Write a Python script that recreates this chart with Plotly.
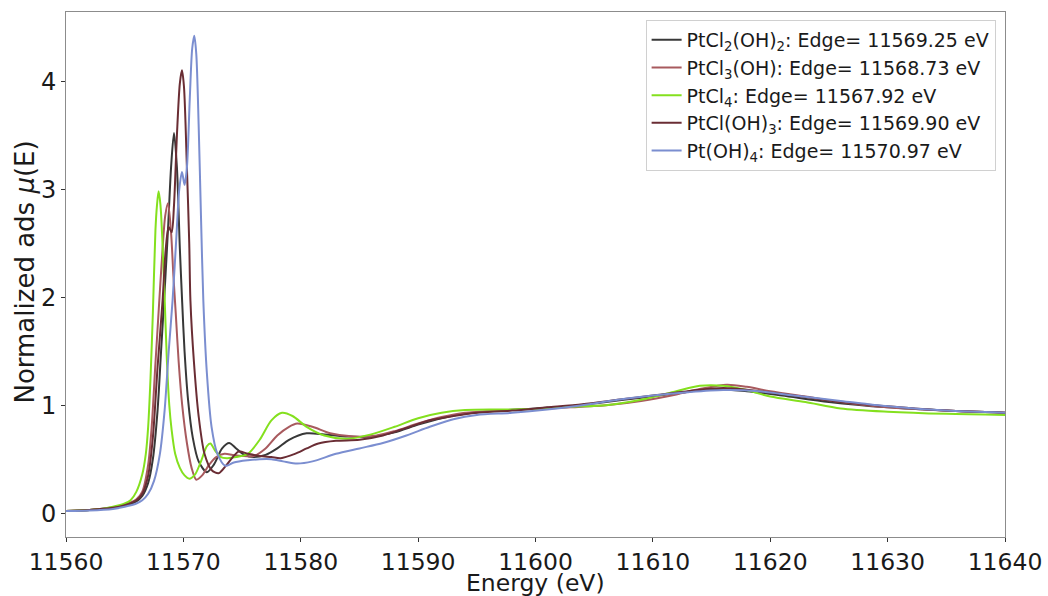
import plotly.graph_objects as go

# Pt L3-edge XANES of the chloro/hydroxo Pt(IV) complexes

# PtCl2(OH)2
e_cl2oh2 = [11560, 11562, 11564, 11565, 11566, 11566.5, 11567, 11567.4, 11567.8, 11568.1,
            11568.4, 11568.7, 11568.95, 11569.2, 11569.45, 11569.7, 11569.9, 11570.1, 11570.4,
            11570.8, 11571.3, 11572.0, 11572.6, 11573.3, 11573.9, 11574.5, 11575.2, 11576,
            11577, 11578, 11579, 11580.5, 11582, 11584, 11586, 11588, 11590, 11592, 11594,
            11597, 11600, 11603, 11606, 11609, 11612, 11615, 11618, 11621, 11625, 11630,
            11635, 11640]
mu_cl2oh2 = [0.02, 0.03, 0.05, 0.07, 0.11, 0.16, 0.28, 0.5, 0.95, 1.5,
             2.05, 2.65, 3.2, 3.52, 3.2, 2.45, 1.95, 1.5, 1.05,
             0.7, 0.48, 0.38, 0.45, 0.6, 0.65, 0.6, 0.54, 0.52,
             0.54, 0.6, 0.68, 0.74, 0.73, 0.71, 0.71, 0.75, 0.82, 0.88, 0.92,
             0.95, 0.97, 0.99, 1.03, 1.07, 1.11, 1.15, 1.13, 1.09, 1.03, 0.98,
             0.95, 0.93]

# PtCl3(OH)
e_cl3oh = [11560, 11562, 11564, 11565, 11566, 11566.5, 11567, 11567.3, 11567.6, 11567.95,
           11568.2, 11568.45, 11568.69, 11568.95, 11569.15, 11569.35, 11569.6, 11569.9,
           11570.3, 11570.7, 11571.1, 11571.6, 11572.2, 11572.8, 11573.5, 11574.2, 11575,
           11576, 11577, 11578, 11579, 11579.7, 11581, 11582.5, 11584.5, 11586.5, 11588,
           11590, 11592, 11594, 11597, 11600, 11603, 11606, 11609, 11612, 11614, 11616.3,
           11618, 11620, 11623, 11626, 11630, 11635, 11640]
mu_cl3oh = [0.02, 0.03, 0.055, 0.08, 0.13, 0.2, 0.45, 0.8, 1.35, 1.97,
            2.4, 2.75, 2.87, 2.6, 2.2, 1.85, 1.4, 1.0,
            0.65, 0.42, 0.31, 0.35, 0.45, 0.52, 0.55, 0.54, 0.53,
            0.53, 0.6, 0.72, 0.8, 0.83, 0.8, 0.74, 0.71, 0.72, 0.76,
            0.83, 0.89, 0.93, 0.95, 0.965, 0.98, 1.0, 1.04, 1.1, 1.15, 1.19,
            1.17, 1.13, 1.08, 1.03, 0.98, 0.95, 0.93]

# PtCl4
e_cl4 = [11560, 11562, 11563, 11564, 11565, 11565.5, 11566, 11566.5, 11566.8, 11567,
         11567.2, 11567.4, 11567.62, 11567.75, 11567.89, 11568.05, 11568.2, 11568.4,
         11568.6, 11568.8, 11569.0, 11569.3, 11569.7, 11570.1, 11570.5, 11571.0, 11571.5,
         11572.0, 11572.3, 11572.7, 11573.2, 11573.7, 11574.5, 11575.5, 11576.5, 11577.5,
         11578.4, 11579.3, 11580.5, 11582, 11584, 11586, 11588, 11590, 11592, 11594,
         11597, 11600, 11603, 11606, 11609, 11612, 11614, 11616, 11618, 11620, 11623,
         11626, 11630, 11635, 11640]
mu_cl4 = [0.02, 0.03, 0.04, 0.06, 0.09, 0.12, 0.2, 0.36, 0.55, 0.8,
          1.25, 1.85, 2.62, 2.85, 2.98, 2.85, 2.55, 2.0,
          1.4, 1.0, 0.77, 0.55, 0.42, 0.35, 0.32, 0.36, 0.48,
          0.62, 0.645, 0.58, 0.52, 0.51, 0.52, 0.55, 0.68, 0.86,
          0.93, 0.9, 0.8, 0.72, 0.69, 0.73, 0.8, 0.88, 0.93, 0.955,
          0.96, 0.965, 0.985, 1.0, 1.05, 1.13, 1.18, 1.18, 1.14, 1.08, 1.03,
          0.97, 0.94, 0.92, 0.91]

# PtCl(OH)3
e_cloh3 = [11560, 11562, 11564, 11565, 11566, 11566.5, 11567, 11567.4, 11567.8, 11568.23,
           11568.5, 11568.75, 11569.0, 11569.2, 11569.45, 11569.7, 11569.88, 11570.05,
           11570.3, 11570.5, 11570.6, 11570.9, 11571.3, 11571.8, 11572.4, 11573.0, 11573.7,
           11574.7, 11575.5, 11576.5, 11577.5, 11578.3, 11579.5, 11580.5, 11581.5, 11583,
           11585, 11587, 11589, 11591, 11593, 11595, 11598, 11601, 11604, 11607, 11610,
           11613, 11616, 11619, 11622, 11626, 11630, 11635, 11640]
mu_cloh3 = [0.02, 0.03, 0.05, 0.075, 0.12, 0.18, 0.35, 0.7, 1.35, 1.97,
            2.45, 2.65, 2.6, 2.85, 3.5, 3.98, 4.1, 3.95,
            3.2, 2.5, 1.97, 1.4, 0.9, 0.55, 0.4, 0.37, 0.45,
            0.57, 0.55, 0.53, 0.52, 0.51, 0.55, 0.6, 0.645, 0.67,
            0.68, 0.72, 0.79, 0.86, 0.9, 0.93, 0.95, 0.98, 1.01, 1.05, 1.09,
            1.13, 1.16, 1.13, 1.09, 1.03, 0.99, 0.95, 0.93]

# Pt(OH)4
e_oh4 = [11560, 11562, 11564, 11565, 11566, 11566.5, 11567, 11567.5, 11568, 11568.4,
         11568.75, 11569.08, 11569.4, 11569.65, 11569.88, 11570.1, 11570.3, 11570.55,
         11570.75, 11570.93, 11571.1, 11571.3, 11571.5, 11571.7, 11572.0, 11572.4, 11572.9,
         11573.57, 11574.3, 11575.5, 11576.5, 11577.5, 11578.5, 11579.7, 11581, 11583,
         11585, 11587, 11589, 11591, 11593, 11595, 11598, 11601, 11604, 11607, 11610,
         11613, 11616, 11619, 11622, 11626, 11630, 11635, 11640]
mu_oh4 = [0.02, 0.025, 0.04, 0.06, 0.09, 0.12, 0.18, 0.3, 0.55, 0.95,
          1.5, 1.97, 2.55, 3.0, 3.16, 3.04, 3.2, 3.85,
          4.3, 4.42, 4.25, 3.6, 2.75, 1.97, 1.3, 0.8, 0.55,
          0.44, 0.47, 0.49, 0.5, 0.5, 0.48, 0.46, 0.48, 0.55,
          0.6, 0.65, 0.72, 0.8, 0.87, 0.91, 0.93, 0.96, 1.0, 1.05, 1.09,
          1.12, 1.14, 1.13, 1.09, 1.04, 0.99, 0.95, 0.93]

series = [
    ("PtCl<sub>2</sub>(OH)<sub>2</sub>: Edge= 11569.25 eV", e_cl2oh2, mu_cl2oh2, "#383838"),
    ("PtCl<sub>3</sub>(OH): Edge= 11568.73 eV", e_cl3oh, mu_cl3oh, "#a85a5e"),
    ("PtCl<sub>4</sub>: Edge= 11567.92 eV", e_cl4, mu_cl4, "#84e01e"),
    ("PtCl(OH)<sub>3</sub>: Edge= 11569.90 eV", e_cloh3, mu_cloh3, "#6a2d34"),
    ("Pt(OH)<sub>4</sub>: Edge= 11570.97 eV", e_oh4, mu_oh4, "#7b8ed0"),
]

fig = go.Figure()
for name, e, mu, color in series:
    fig.add_trace(go.Scatter(
        x=e, y=mu, name=name, mode="lines",
        line=dict(color=color, width=2, shape="spline", smoothing=0.8),
    ))

font = "DejaVu Sans, Arial, sans-serif"
fig.update_layout(
    width=1048, height=596,
    margin=dict(l=66, r=43, t=12, b=59),
    paper_bgcolor="white", plot_bgcolor="white",
    font=dict(family=font, color="#1a1a1a"),
    showlegend=True,
    legend=dict(
        x=0.99, y=0.985, xanchor="right", yanchor="top",
        bgcolor="rgba(255,255,255,0.9)", bordercolor="#d0d0d0", borderwidth=1,
        font=dict(family=font, size=19, color="#1a1a1a"),
        tracegroupgap=0,
    ),
    xaxis=dict(
        range=[11560, 11640], tickmode="linear", tick0=11560, dtick=10,
        tickformat="d", automargin=False,
        showgrid=False, zeroline=False,
        showline=True, mirror=True, linecolor="#8c8c8c", linewidth=1,
        ticks="outside", ticklen=4, tickcolor="#333333",
        tickfont=dict(size=23.5, family=font),
    ),
    yaxis=dict(
        range=[-0.22, 4.64], tickmode="linear", tick0=0, dtick=1,
        automargin=False,
        showgrid=False, zeroline=False,
        showline=True, mirror=True, linecolor="#8c8c8c", linewidth=1,
        ticks="outside", ticklen=4, tickcolor="#333333",
        tickfont=dict(size=24, family=font),
    ),
    annotations=[
        dict(text="Energy (eV)", xref="paper", yref="paper", x=0.5, y=-0.0885,
             xanchor="center", yanchor="middle", showarrow=False,
             font=dict(size=23.5, family=font, color="#1a1a1a")),
        dict(text="Normalized ads <i>μ</i>(E)", xref="paper", yref="paper", x=-0.044, y=0.505,
             xanchor="center", yanchor="middle", textangle=-90, showarrow=False,
             font=dict(size=26, family=font, color="#1a1a1a")),
    ],
)

fig.write_html("out.html")
